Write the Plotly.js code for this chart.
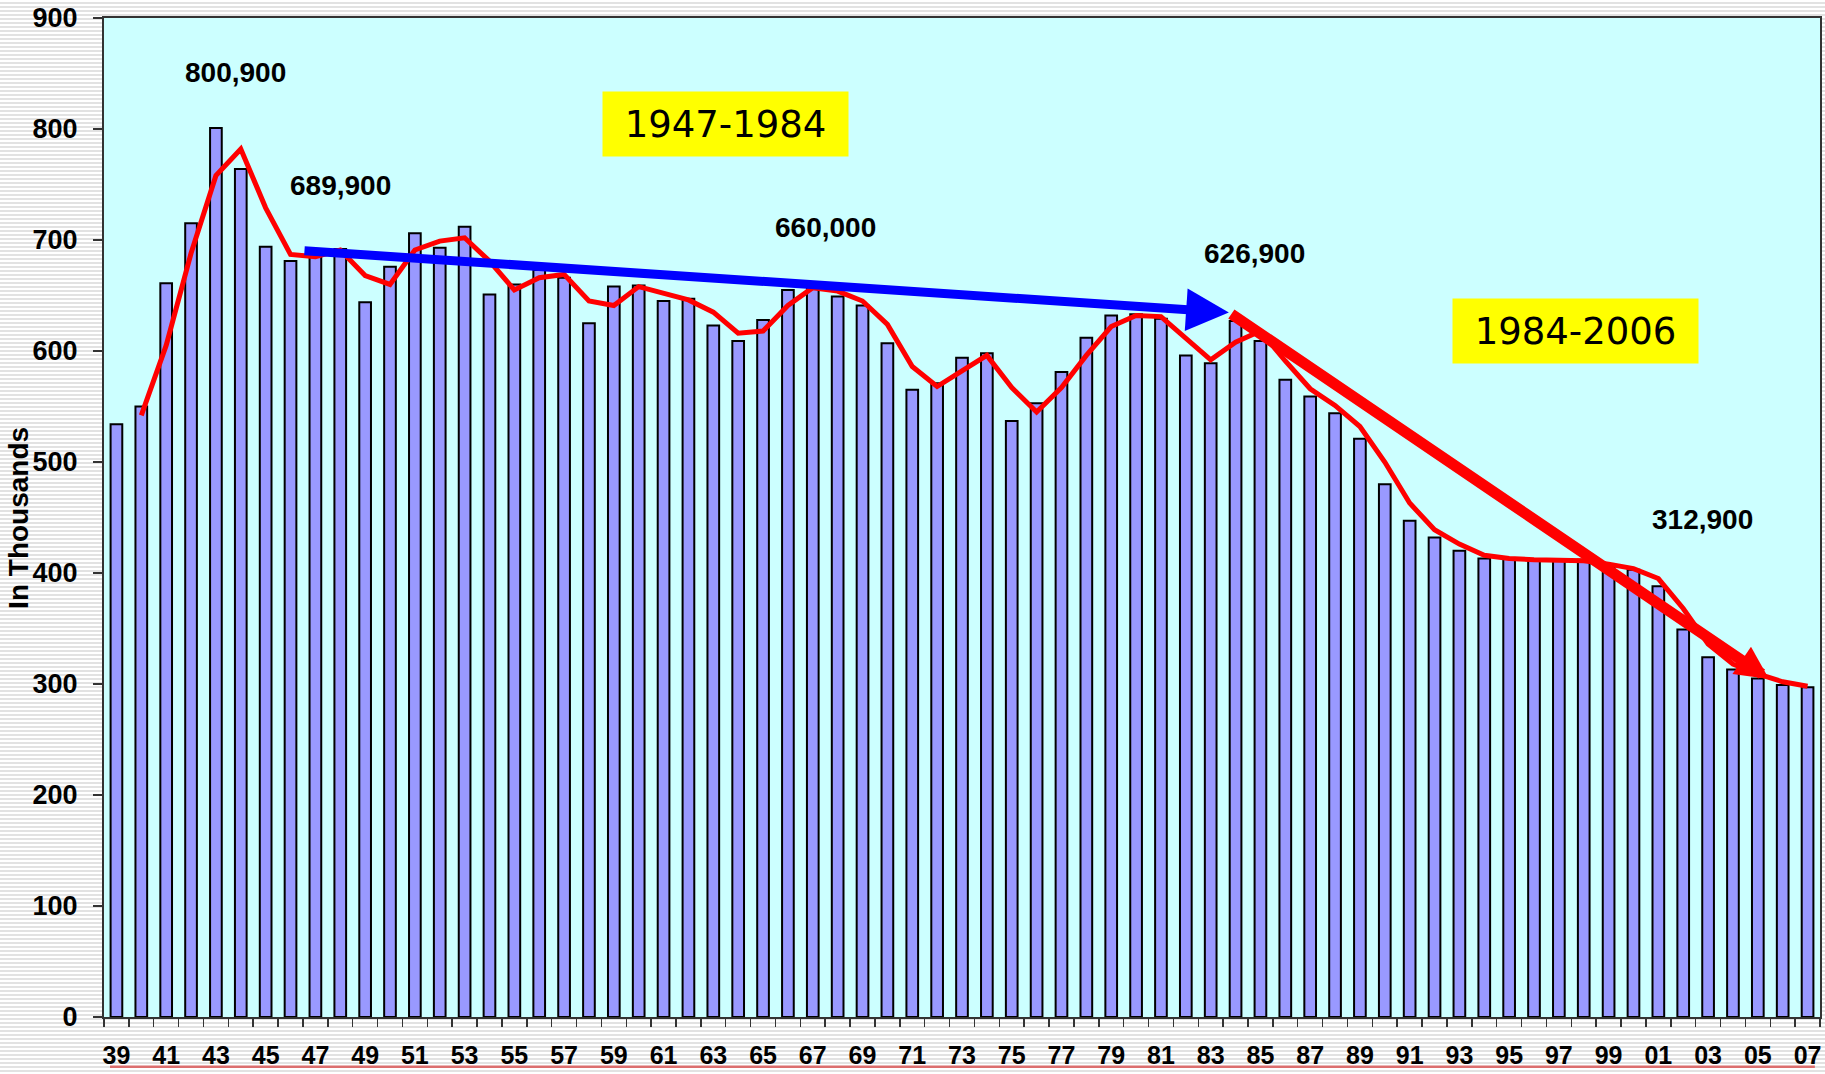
<!DOCTYPE html>
<html>
<head>
<meta charset="utf-8">
<script src="https://cdn.plot.ly/plotly-3.0.1.min.js"></script>
<style>
  html, body { margin: 0; padding: 0; }
  body {
    width: 1825px; height: 1074px; overflow: hidden;
    background: repeating-linear-gradient(to bottom, #ffffff 0px, #ffffff 2px, #e2e2e2 2px, #e2e2e2 4px);
  }
  #chart { width: 1825px; height: 1074px; }
</style>
</head>
<body>
<div id="chart"></div>
<script>
// ---- data ----
const years = [1939,1940,1941,1942,1943,1944,1945,1946,1947,1948,1949,1950,1951,1952,1953,1954,1955,1956,1957,1958,1959,1960,1961,1962,1963,1964,1965,1966,1967,1968,1969,1970,1971,1972,1973,1974,1975,1976,1977,1978,1979,1980,1981,1982,1983,1984,1985,1986,1987,1988,1989,1990,1991,1992,1993,1994,1995,1996,1997,1998,1999,2000,2001,2002,2003,2004,2005,2006,2007];
const values = [534,550,661,715,801,764,694,681,690,692,644,676,706,693,712,651,660,673,666,625,658,659,645,647,623,609,628,655,660,649,641,607,565,571,594,598,537,553,581,612,632,633,629,596,589,627,609,574,559,544,521,480,447,432,420,413,413,411,411,412,405,403,388,349,324,313,305,299,297];
// two-year moving average line (1940-2007)
const avgYears = [1940,1941,1942,1943,1944,1945,1946,1947,1948,1949,1950,1951,1952,1953,1954,1955,1956,1957,1958,1959,1960,1961,1962,1963,1964,1965,1966,1967,1968,1969,1970,1971,1972,1973,1974,1975,1976,1977,1978,1979,1980,1981,1982,1983,1984,1985,1986,1987,1988,1989,1990,1991,1992,1993,1994,1995,1996,1997,1998,1999,2000,2001,2002,2003,2004,2005,2006,2007];
const avgValues = [542,605,688,758,782,729,687,685,691,668,660,691,699,702,681,655,666,669,645,641,658,652,646,635,616,618,641,657,654,645,624,586,568,582,596,567,545,567,596,622,632,631,612,592,608,618,591,566,551,532,500,463,439,426,416,413,412,411,411,408,404,395,368,336,318,309,302,298];
const tickYears = [1939,1941,1943,1945,1947,1949,1951,1953,1955,1957,1959,1961,1963,1965,1967,1969,1971,1973,1975,1977,1979,1981,1983,1985,1987,1989,1991,1993,1995,1997,1999,2001,2003,2005,2007];
const tickLabels = ['39','41','43','45','47','49','51','53','55','57','59','61','63','65','67','69','71','73','75','77','79','81','83','85','87','89','91','93','95','97','99','01','03','05','07'];
const peakLabels = ['800,900','689,900','660,000','626,900','312,900'];
const periodLabels = ['1947-1984','1984-2006'];
// trend arrows: [startYear, startValue, endYear, endValue]
const blueTrend = [1946.5, 690.4, 1983.73, 634.6];
const redTrend = [1983.77, 634.3, 2005.45, 304.6];

const FONT = 'Liberation Sans, Arial, sans-serif';

const traces = [
  {
    type: 'bar', x: years, y: values,
    marker: { color: '#9999FF', line: { color: '#000000', width: 2 } },
    hoverinfo: 'skip'
  },
  {
    type: 'scatter', mode: 'lines', x: avgYears, y: avgValues,
    line: { color: '#FF0000', width: 5 },
    hoverinfo: 'skip'
  }
];

const peakPos = [[0.0764, 0.945], [0.1381, 0.832], [0.4202, 0.790], [0.6702, 0.764], [0.9318, 0.498]];
const annotations = [];
peakLabels.forEach((t, i) => {
  annotations.push({
    xref: 'paper', yref: 'paper', x: peakPos[i][0], y: peakPos[i][1],
    xanchor: 'center', yanchor: 'middle', showarrow: false,
    text: t, font: { family: FONT, size: 28, weight: 'bold', color: '#000' }
  });
});
const boxPos = [[0.3619, 0.8939], [0.8578, 0.6867]];
periodLabels.forEach((t, i) => {
  annotations.push({
    xref: 'paper', yref: 'paper', x: boxPos[i][0], y: boxPos[i][1],
    xanchor: 'center', yanchor: 'middle', showarrow: false,
    text: t, bgcolor: '#FFFF00', width: 245, height: 64, borderpad: 0,
    font: { family: 'DejaVu Sans, Verdana, sans-serif', size: 37, color: '#000' }
  });
});
annotations.push({
  xref: 'x', yref: 'y', axref: 'x', ayref: 'y',
  x: blueTrend[2], y: blueTrend[3], ax: blueTrend[0], ay: blueTrend[1],
  text: '', showarrow: true, arrowhead: 2, arrowsize: 0.95, arrowwidth: 9, arrowcolor: '#0000FF', standoff: 0
});
annotations.push({
  xref: 'x', yref: 'y', axref: 'x', ayref: 'y',
  x: redTrend[2], y: redTrend[3], ax: redTrend[0], ay: redTrend[1],
  text: '', showarrow: true, arrowhead: 2, arrowsize: 0.6, arrowwidth: 11, arrowcolor: '#FF0000', standoff: 0
});
annotations.push({
  xref: 'paper', yref: 'paper', x: -0.0496, y: 0.4995,
  xanchor: 'center', yanchor: 'middle', showarrow: false, textangle: -90,
  text: 'In Thousands', font: { family: FONT, size: 28, weight: 'bold', color: '#000' }
});

const layout = {
  width: 1825, height: 1074,
  margin: { l: 104, r: 5, t: 18, b: 57, pad: 0 },
  paper_bgcolor: 'rgba(0,0,0,0)',
  plot_bgcolor: '#CCFFFF',
  showlegend: false,
  bargap: 0.53,
  xaxis: {
    range: [1938.5, 2007.5], tickmode: 'array', tickvals: tickYears, ticktext: tickLabels,
    ticks: '', ticklabelstandoff: 15,
    tickfont: { family: FONT, size: 25, weight: 'bold', color: '#000' },
    minor: { tick0: 1938.5, dtick: 1, ticks: 'outside', ticklen: 8, tickwidth: 1.5, tickcolor: '#333', showgrid: false },
    showline: true, linecolor: '#333', linewidth: 2, mirror: true,
    showgrid: false, zeroline: false, fixedrange: true
  },
  yaxis: {
    range: [0, 900], dtick: 100, tick0: 0,
    ticks: 'outside', ticklen: 9, tickwidth: 1.5, tickcolor: '#333', ticklabelstandoff: 10,
    tickfont: { family: FONT, size: 27, weight: 'bold', color: '#000' },
    showline: true, linecolor: '#333', linewidth: 2, mirror: true,
    showgrid: false, zeroline: false, fixedrange: true
  },
  annotations: annotations,
  shapes: [
    { type: 'line', xref: 'paper', yref: 'paper', x0: 0.0035, x1: 0.997, y0: -0.0497, y1: -0.0497,
      line: { color: 'rgb(220,110,110)', width: 2.5 } }
  ]
};

Plotly.newPlot('chart', traces, layout, { staticPlot: true, displayModeBar: false });
</script>
</body>
</html>
